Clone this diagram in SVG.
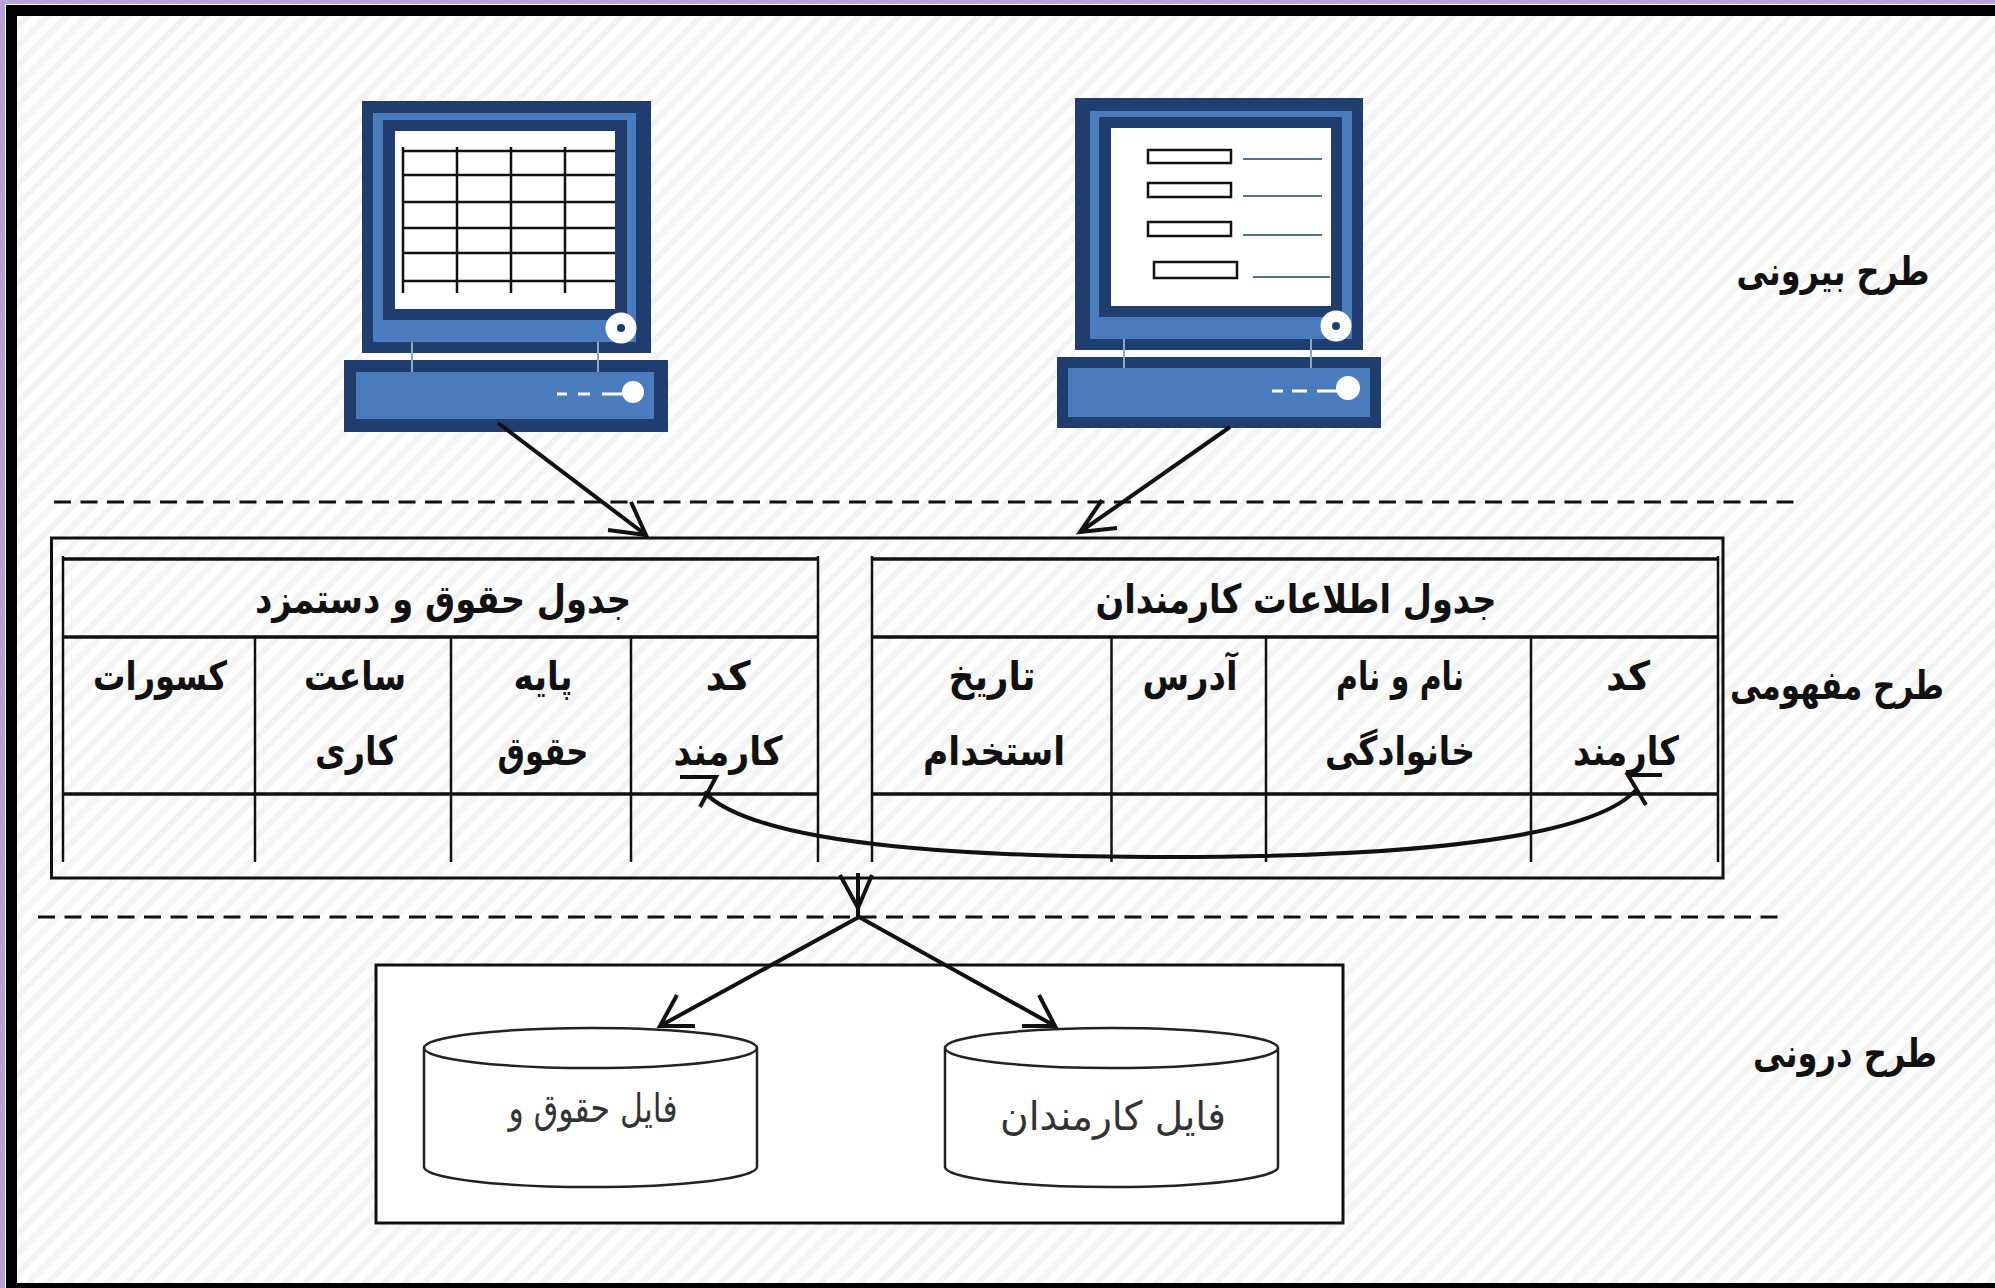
<svg xmlns="http://www.w3.org/2000/svg" width="1995" height="1288" viewBox="0 0 1995 1288">
<style>
text{font-family:"DejaVu Sans","Noto Sans",sans-serif;fill:#111;text-anchor:middle;direction:rtl}
.b{font-weight:bold;font-size:40px}
.f{font-weight:normal;font-size:40px;fill:#333}
.dk{fill:#1f3d6e}.bl{fill:#4a7bbd}.wh{fill:#fff}
.g{stroke:#111;stroke-width:2.5;fill:none}
.t{stroke:#111;stroke-width:3.5;fill:none}
.c{stroke:#8fa6c4;stroke-width:2}
.d{stroke:#fff;stroke-width:3}
.sl{stroke:#56708f;stroke-width:2}
.fr{stroke:#111;stroke-width:3;fill:#fff}
.a{stroke:#111;stroke-width:4;fill:none;stroke-linejoin:miter}
.dash{stroke:#111;stroke-width:3;stroke-dasharray:17 9.5;fill:none}
.cy{stroke:#222;stroke-width:2.5;fill:none}
</style>
<defs>
<pattern id="hatch" width="14" height="14" patternUnits="userSpaceOnUse" patternTransform="rotate(45)">
<rect width="14" height="14" fill="#fff"/><rect width="6" height="14" fill="#f3f3f3"/>
</pattern>
</defs>
<g id="background">
<rect width="1995" height="1288" fill="url(#hatch)"/>
<rect width="1995" height="4" fill="#b9a0d6"/>
<rect width="5" height="1288" fill="#b9a0d6"/>
<path d="M6 5H1995V16H17V1283H1995V1288H6Z" fill="#000"/>
</g>
<g id="monitor-table">
<rect class="dk" x="362" y="101" width="289" height="252"/>
<rect class="bl" x="373" y="113" width="263" height="229"/>
<rect class="dk" x="383" y="120" width="244" height="200"/>
<rect class="wh" x="395" y="131" width="220" height="178"/>
<path class="g" d="M403 147V293M457 147V293M511 147V293M565 147V293M403 151H615M403 175H615M403 202H615M403 228H615M403 253H615M403 281H615"/>
<circle class="wh" cx="621" cy="328" r="15.5"/><circle class="dk" cx="621" cy="328" r="4"/>
<rect class="wh" x="362" y="353" width="289" height="7"/>
<rect class="dk" x="344" y="360" width="324" height="72"/>
<rect class="bl" x="356" y="372" width="298" height="47"/>
<path class="c" d="M412 342V372M598 342V372"/>
<path class="d" d="M557 394H567M578 394H590M602 394H622"/>
<circle class="wh" cx="633" cy="392" r="11"/>
</g>
<g id="monitor-form">
<rect class="dk" x="1075" y="98" width="288" height="252"/>
<rect class="bl" x="1090" y="111" width="262" height="228"/>
<rect class="dk" x="1099" y="117" width="243" height="200"/>
<rect class="wh" x="1111" y="128" width="220" height="178"/>
<g fill="none" stroke="#111" stroke-width="2.5">
<rect x="1148" y="150" width="83" height="13"/>
<rect x="1148" y="183" width="83" height="14"/>
<rect x="1148" y="222" width="83" height="14"/>
<rect x="1154" y="262" width="83" height="16"/>
</g>
<path class="sl" d="M1243 159H1322M1243 196H1322M1243 235H1322M1253 277H1330"/>
<circle class="wh" cx="1336" cy="326" r="15.5"/><circle class="dk" cx="1336" cy="326" r="4"/>
<rect class="wh" x="1075" y="350" width="288" height="7"/>
<rect class="dk" x="1057" y="357" width="324" height="71"/>
<rect class="bl" x="1068" y="368" width="302" height="49"/>
<path class="c" d="M1124 339V368M1311 339V368"/>
<path class="d" d="M1272 391H1283M1292 391H1307M1317 391H1338"/>
<circle class="wh" cx="1348" cy="388" r="12"/>
</g>
<g id="label-external"><text class="b" x="1833" y="285" textLength="193" lengthAdjust="spacingAndGlyphs">طرح بیرونی</text></g>
<g id="label-conceptual"><text class="b" x="1837" y="699" textLength="214" lengthAdjust="spacingAndGlyphs">طرح مفهومی</text></g>
<g id="label-internal"><text class="b" x="1845" y="1067" textLength="184" lengthAdjust="spacingAndGlyphs">طرح درونی</text></g>
<g id="separators">
<path class="dash" d="M54 502H1796"/>
<path class="dash" d="M38 917H1779"/>
</g>
<g id="conceptual-frame"><rect x="51.5" y="538" width="1671.5" height="340" fill="none" stroke="#111" stroke-width="3"/></g>
<g id="table-payroll">
<path class="t" d="M63 559H818"/>
<path class="t" d="M63 637H818M63 794H818"/>
<path class="g" d="M63 556V862M255 637V862M451 637V862M631 637V862M818 556V862"/>
<text class="b" x="443" y="613" textLength="376" lengthAdjust="spacingAndGlyphs">جدول حقوق و دستمزد</text>
<text class="b" x="728" y="690" textLength="45" lengthAdjust="spacingAndGlyphs">کد</text>
<text class="b" x="728" y="765" textLength="109" lengthAdjust="spacingAndGlyphs">کارمند</text>
<text class="b" x="543" y="690" textLength="59" lengthAdjust="spacingAndGlyphs">پایه</text>
<text class="b" x="543" y="765" textLength="91" lengthAdjust="spacingAndGlyphs">حقوق</text>
<text class="b" x="355" y="690" textLength="102" lengthAdjust="spacingAndGlyphs">ساعت</text>
<text class="b" x="356" y="765" textLength="82" lengthAdjust="spacingAndGlyphs">کاری</text>
<text class="b" x="160" y="690" textLength="134" lengthAdjust="spacingAndGlyphs">کسورات</text>
</g>
<g id="table-employees">
<path class="t" d="M872 559H1718"/>
<path class="t" d="M872 637H1718M872 794H1718"/>
<path class="g" d="M872 556V862M1111.5 637V862M1266 637V862M1531 637V862M1718 556V862"/>
<text class="b" x="1296" y="613" textLength="401" lengthAdjust="spacingAndGlyphs">جدول اطلاعات کارمندان</text>
<text class="b" x="1628" y="690" textLength="44" lengthAdjust="spacingAndGlyphs">کد</text>
<text class="b" x="1626" y="765" textLength="106" lengthAdjust="spacingAndGlyphs">کارمند</text>
<text class="b" x="1400" y="690" textLength="128" lengthAdjust="spacingAndGlyphs">نام و نام</text>
<text class="b" x="1400" y="765" textLength="150" lengthAdjust="spacingAndGlyphs">خانوادگی</text>
<text class="b" x="1190" y="690" textLength="95" lengthAdjust="spacingAndGlyphs">آدرس</text>
<text class="b" x="992" y="690" textLength="87" lengthAdjust="spacingAndGlyphs">تاریخ</text>
<text class="b" x="994" y="765" textLength="142" lengthAdjust="spacingAndGlyphs">استخدام</text>
</g>
<g id="storage-frame"><rect class="fr" x="376" y="965" width="967" height="258"/></g>
<g id="file-payroll">
<path class="cy" d="M424 1048V1167A166.5 20 0 0 0 757 1167V1048"/>
<ellipse class="cy" cx="590.5" cy="1048" rx="166.5" ry="20"/>
<text class="f" x="593" y="1122" textLength="169" lengthAdjust="spacingAndGlyphs">فایل حقوق و</text>
</g>
<g id="file-employees">
<path class="cy" d="M945 1048V1167A166.5 20 0 0 0 1278 1167V1048"/>
<ellipse class="cy" cx="1111.5" cy="1048" rx="166.5" ry="20"/>
<text class="f" x="1113" y="1130" textLength="226" lengthAdjust="spacingAndGlyphs">فایل کارمندان</text>
</g>
<g id="connectors">
<path class="a" d="M498 423L646 535M608 530L646 535L631 502"/>
<path class="a" d="M1230 427L1080 532M1117 528L1080 532L1102 500"/>
<path class="a" d="M704 792C760 850 1000 857 1170 857C1400 857 1590 840 1636 790"/>
<path class="a" d="M680 777H716L700 807"/>
<path class="a" d="M1662 775H1628L1646 805"/>
<path class="a" d="M858 873V917M840 875L858 908L872 875"/>
<path class="a" d="M859 917L660 1026M677 995L660 1026H695"/>
<path class="a" d="M859 917L1055 1026M1039 995L1055 1026H1022"/>
</g>
</svg>
